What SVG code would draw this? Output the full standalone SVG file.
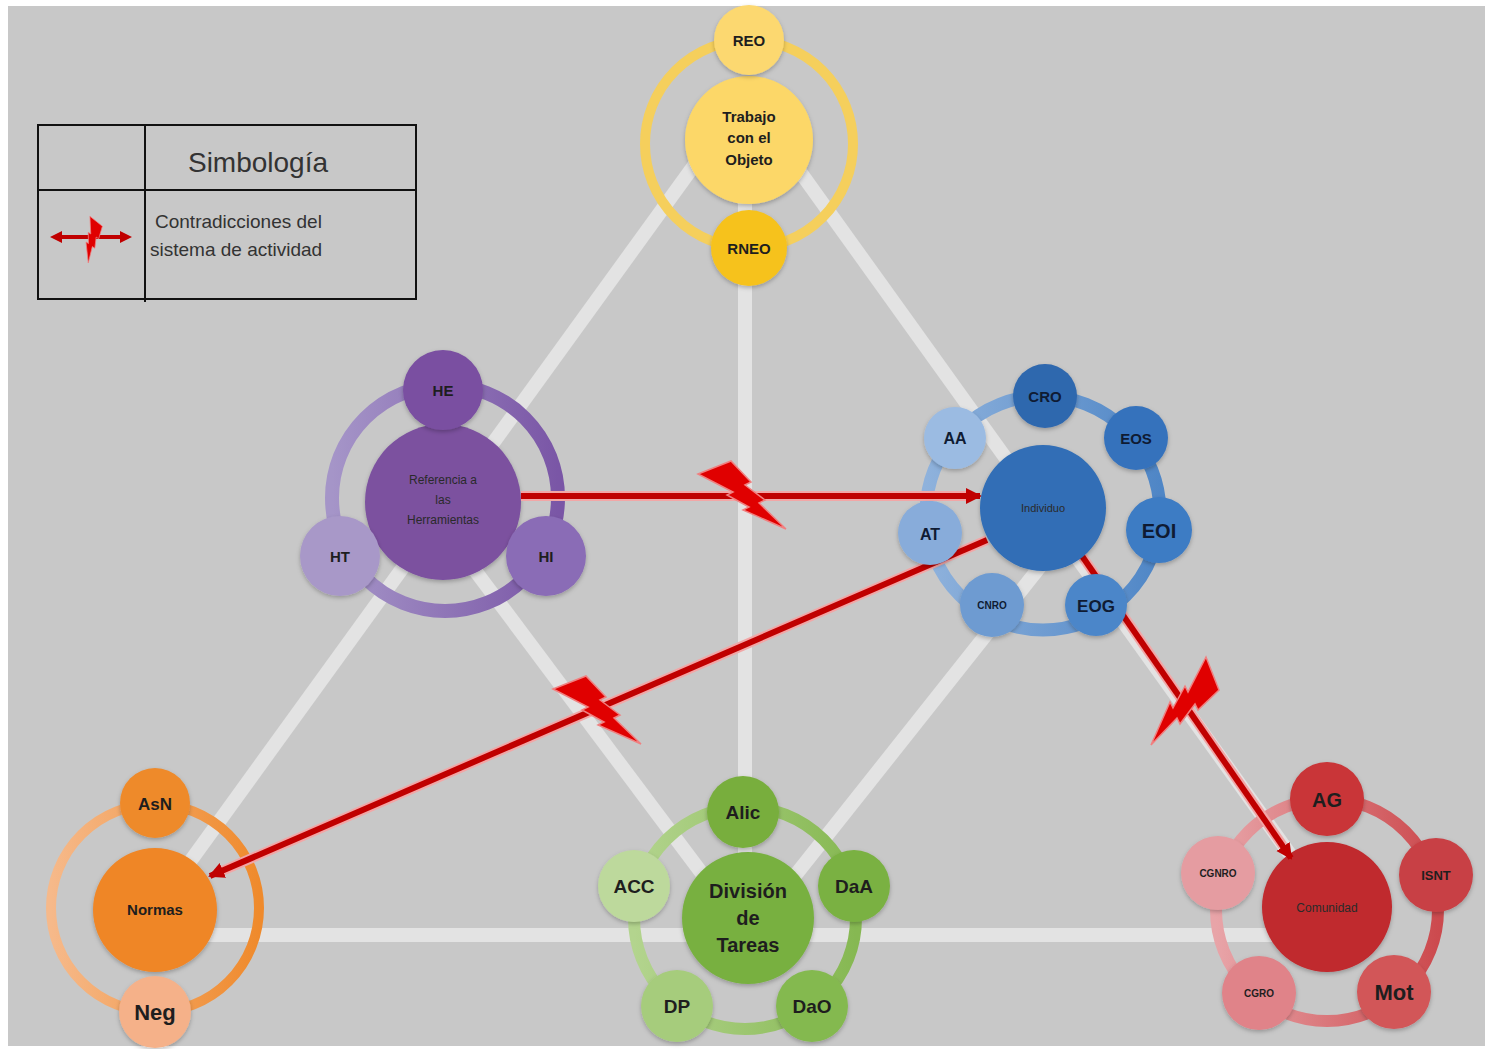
<svg xmlns="http://www.w3.org/2000/svg" width="1490" height="1049" viewBox="0 0 1490 1049">
<defs>
  <style>
    .tri { stroke: #e3e3e3; stroke-width: 14; fill: none; stroke-linecap: butt; }
    .lbl { font-family: "Liberation Sans", Arial, sans-serif; font-weight: bold; text-anchor: middle; fill: #1e1e1e; }
    .blbl { font-family: "Liberation Sans", Arial, sans-serif; font-weight: bold; text-anchor: middle; fill: #0f1b33; }
    .sm { font-family: "Liberation Sans", Arial, sans-serif; text-anchor: middle; fill: #2a2a2a; }
    .leg { font-family: "Liberation Sans", Arial, sans-serif; fill: #333333; }
    .glow { stroke: #f2a6a6; stroke-width: 10; fill: none; }
    .red { stroke: #c00000; stroke-width: 6; fill: none; }
    .bolt { fill: #e00000; stroke: #f08080; stroke-width: 1.5; }
    .node { filter: url(#sh); }
  </style>
  <filter id="sh" x="-20%" y="-20%" width="140%" height="140%">
    <feDropShadow dx="0" dy="2" stdDeviation="2" flood-color="#000000" flood-opacity="0.25"/>
  </filter>
  <marker id="ah" markerUnits="userSpaceOnUse" markerWidth="18" markerHeight="18" refX="14" refY="8" orient="auto">
    <path d="M0,0 L16,8 L0,16 Z" fill="#c00000"/>
  </marker>
  <path id="boltShape" d="M-43,-22 L-10,-35 L10,-14 L4,-11 L24,4 L18,7 L45,33 L2,14 L8,11 L-14,-1 L-8,-4 Z"/>
  <linearGradient id="gPur" x1="0" y1="0" x2="1" y2="0">
    <stop offset="0" stop-color="#a595c8"/><stop offset="1" stop-color="#7a56a6"/>
  </linearGradient>
  <linearGradient id="gBlue" x1="0" y1="0" x2="1" y2="0">
    <stop offset="0" stop-color="#8fb2dc"/><stop offset="1" stop-color="#4f86c6"/>
  </linearGradient>
  <linearGradient id="gOr" x1="0" y1="0" x2="1" y2="0">
    <stop offset="0" stop-color="#f6b98a"/><stop offset="1" stop-color="#ef8a2c"/>
  </linearGradient>
  <linearGradient id="gGr" x1="0" y1="0" x2="1" y2="0">
    <stop offset="0" stop-color="#b3d48e"/><stop offset="1" stop-color="#86b852"/>
  </linearGradient>
  <linearGradient id="gRed" x1="0" y1="0" x2="1" y2="0">
    <stop offset="0" stop-color="#e8a4a8"/><stop offset="1" stop-color="#cc4a4e"/>
  </linearGradient>
</defs>

<rect x="0" y="0" width="1490" height="1049" fill="#ffffff"/>
<rect x="8" y="6" width="1477" height="1040" fill="#c8c8c8"/>

<g id="triangle">
  <line class="tri" x1="745" y1="95" x2="155" y2="910"/>
  <line class="tri" x1="745" y1="95" x2="1330" y2="910"/>
  <line class="tri" x1="155" y1="935" x2="1330" y2="935"/>
  <line class="tri" x1="745" y1="95" x2="745" y2="935"/>
  <line class="tri" x1="420" y1="497" x2="748" y2="935"/>
  <line class="tri" x1="1085" y1="510" x2="748" y2="935"/>
</g>

<g id="legend">
  <rect x="38" y="125" width="378" height="174" fill="none" stroke="#111" stroke-width="2"/>
  <line x1="145" y1="125" x2="145" y2="302" stroke="#111" stroke-width="2"/>
  <line x1="38" y1="190" x2="416" y2="190" stroke="#111" stroke-width="2"/>
  <text class="leg" x="258" y="172" font-size="28" text-anchor="middle">Simbología</text>
  <text class="leg" x="155" y="228" font-size="19">Contradicciones del</text>
  <text class="leg" x="150" y="256" font-size="19">sistema de actividad</text>
  <line x1="60" y1="237" x2="122" y2="237" stroke="#c00000" stroke-width="4"/>
  <path d="M62,231 L50,237 L62,243 Z" fill="#c00000"/>
  <path d="M120,231 L132,237 L120,243 Z" fill="#c00000"/>
  <use href="#boltShape" class="bolt" transform="translate(91,238) rotate(60) scale(0.45)"/>
</g>

<g id="node-objeto">
  <circle cx="749" cy="144" r="104" fill="none" stroke="#f5cf5c" stroke-width="10"/>
  <circle class="node" cx="749" cy="140" r="64" fill="#fcd767"/>
  <circle class="node" cx="749" cy="40" r="35" fill="#fcd870"/>
  <circle class="node" cx="749" cy="248" r="38" fill="#f6c21c"/>
  <text class="lbl" x="749" y="46" font-size="15">REO</text>
  <text class="lbl" x="749" y="122" font-size="15">Trabajo</text>
  <text class="lbl" x="749" y="143" font-size="15">con el</text>
  <text class="lbl" x="749" y="165" font-size="15">Objeto</text>
  <text class="lbl" x="749" y="254" font-size="15">RNEO</text>
</g>

<g id="node-herramientas">
  <circle cx="445" cy="498" r="113" fill="none" stroke="url(#gPur)" stroke-width="14"/>
  <circle class="node" cx="443" cy="502" r="78" fill="#7b519f"/>
  <circle class="node" cx="443" cy="390" r="40" fill="#7a4fa1"/>
  <circle class="node" cx="340" cy="556" r="40" fill="#a898c8"/>
  <circle class="node" cx="546" cy="556" r="40" fill="#8a6cb6"/>
  <text class="lbl" x="443" y="396" font-size="15">HE</text>
  <text class="lbl" x="340" y="562" font-size="15">HT</text>
  <text class="lbl" x="546" y="562" font-size="15">HI</text>
  <text class="sm" x="443" y="484" font-size="12">Referencia  a</text>
  <text class="sm" x="443" y="504" font-size="12">las</text>
  <text class="sm" x="443" y="524" font-size="12">Herramientas</text>
</g>

<g id="node-normas">
  <circle cx="155" cy="908" r="104" fill="none" stroke="url(#gOr)" stroke-width="10"/>
  <circle class="node" cx="155" cy="910" r="62" fill="#ef8627"/>
  <circle class="node" cx="155" cy="803" r="35" fill="#ee8a2b"/>
  <circle class="node" cx="155" cy="1012" r="36" fill="#f5b189"/>
  <text class="lbl" x="155" y="810" font-size="17">AsN</text>
  <text class="lbl" x="155" y="915" font-size="15">Normas</text>
  <text class="lbl" x="155" y="1020" font-size="22">Neg</text>
</g>

<g id="node-division">
  <circle cx="745" cy="918" r="111" fill="none" stroke="url(#gGr)" stroke-width="12"/>
  <circle class="node" cx="748" cy="918" r="66" fill="#78b041"/>
  <circle class="node" cx="743" cy="812" r="36" fill="#78ae3d"/>
  <circle class="node" cx="854" cy="886" r="36" fill="#7ab142"/>
  <circle class="node" cx="812" cy="1006" r="36" fill="#84b950"/>
  <circle class="node" cx="677" cy="1006" r="36" fill="#a6cc7c"/>
  <circle class="node" cx="634" cy="886" r="36" fill="#bdd99c"/>
  <text class="lbl" x="743" y="819" font-size="19">Alic</text>
  <text class="lbl" x="854" y="893" font-size="19">DaA</text>
  <text class="lbl" x="812" y="1013" font-size="19">DaO</text>
  <text class="lbl" x="677" y="1013" font-size="19">DP</text>
  <text class="lbl" x="634" y="893" font-size="19">ACC</text>
  <text class="lbl" x="748" y="898" font-size="20">División</text>
  <text class="lbl" x="748" y="925" font-size="20">de</text>
  <text class="lbl" x="748" y="952" font-size="20">Tareas</text>
</g>

<g id="node-comunidad">
  <circle cx="1327" cy="910" r="111" fill="none" stroke="url(#gRed)" stroke-width="12"/>
  <circle class="node" cx="1327" cy="907" r="65" fill="#c0292d"/>
  <circle class="node" cx="1327" cy="799" r="37" fill="#c93437"/>
  <circle class="node" cx="1436" cy="875" r="37" fill="#c84145"/>
  <circle class="node" cx="1394" cy="992" r="37" fill="#d25659"/>
  <circle class="node" cx="1259" cy="993" r="37" fill="#e08389"/>
  <circle class="node" cx="1218" cy="873" r="37" fill="#e59ca1"/>
  <text class="lbl" x="1327" y="807" font-size="20">AG</text>
  <text class="lbl" x="1436" y="880" font-size="13">ISNT</text>
  <text class="lbl" x="1394" y="1000" font-size="22">Mot</text>
  <text class="lbl" x="1259" y="997" font-size="10">CGRO</text>
  <text class="lbl" x="1218" y="877" font-size="10">CGNRO</text>
  <text class="sm" x="1327" y="912" font-size="12" fill="#1a1a1a">Comunidad</text>
</g>

<g id="node-individuo-ring">
  <circle cx="1043" cy="513" r="117" fill="none" stroke="url(#gBlue)" stroke-width="13"/>
</g>

<g id="connectors">
  <line class="glow" x1="521" y1="496" x2="968" y2="496"/>
  <line class="red" x1="521" y1="496" x2="980" y2="496" marker-end="url(#ah)"/>
  <line class="glow" x1="987" y1="540" x2="222" y2="871"/>
  <line class="red" x1="987" y1="540" x2="210" y2="876" marker-end="url(#ah)"/>
  <line class="glow" x1="1082" y1="556" x2="1283" y2="846"/>
  <line class="red" x1="1082" y1="556" x2="1291" y2="858" marker-end="url(#ah)"/>
  <use href="#boltShape" class="bolt" transform="translate(741,496)"/>
  <use href="#boltShape" class="bolt" transform="translate(596,711)"/>
  <use href="#boltShape" class="bolt" transform="translate(1184,700) rotate(90)"/>
</g>

<g id="node-individuo">
  <circle class="node" cx="1043" cy="508" r="63" fill="#306eb6"/>
  <circle class="node" cx="1045" cy="396" r="32" fill="#2f67ae"/>
  <circle class="node" cx="1136" cy="438" r="32" fill="#3672bc"/>
  <circle class="node" cx="1159" cy="530" r="33" fill="#3d7bc4"/>
  <circle class="node" cx="1096" cy="605" r="31" fill="#4b86c9"/>
  <circle class="node" cx="992" cy="605" r="32" fill="#6e9bd1"/>
  <circle class="node" cx="930" cy="533" r="32" fill="#88acda"/>
  <circle class="node" cx="955" cy="438" r="31" fill="#9bbbe2"/>
  <text class="blbl" x="1045" y="402" font-size="15">CRO</text>
  <text class="blbl" x="1136" y="444" font-size="15">EOS</text>
  <text class="blbl" x="1159" y="538" font-size="20">EOI</text>
  <text class="blbl" x="1096" y="612" font-size="17">EOG</text>
  <text class="blbl" x="992" y="609" font-size="10">CNRO</text>
  <text class="blbl" x="930" y="540" font-size="16">AT</text>
  <text class="blbl" x="955" y="444" font-size="16">AA</text>
  <text class="sm" x="1043" y="512" font-size="11" fill="#111">Individuo</text>
</g>
</svg>
